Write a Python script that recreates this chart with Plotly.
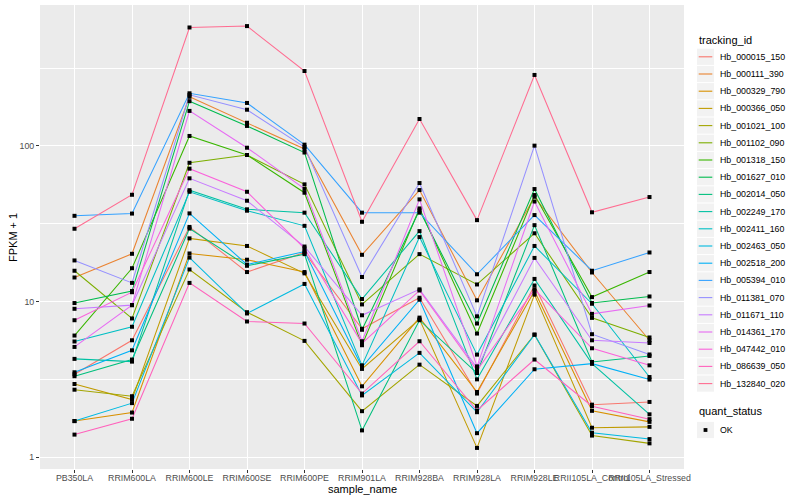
import math
import plotly.graph_objects as go

# ---------------- data ----------------
samples = ["PB350LA", "RRIM600LA", "RRIM600LE", "RRIM600SE", "RRIM600PE", "RRIM901LA",
           "RRIM928BA", "RRIM928LA", "RRIM928LE", "RRII105LA_Control", "RRII105LA_Stressed"]

tracking_ids = ["Hb_000015_150", "Hb_000111_390", "Hb_000329_790", "Hb_000366_050",
                "Hb_001021_100", "Hb_001102_090", "Hb_001318_150", "Hb_001627_010",
                "Hb_002014_050", "Hb_002249_170", "Hb_002411_160", "Hb_002463_050",
                "Hb_002518_200", "Hb_005394_010", "Hb_011381_070", "Hb_011671_110",
                "Hb_014361_170", "Hb_047442_010", "Hb_086639_050", "Hb_132840_020"]

colors = ["#F8766D", "#EA8331", "#D89000", "#C09B00", "#A3A500", "#7CAE00", "#39B600",
          "#00BB4E", "#00BF7D", "#00C1A3", "#00BFC4", "#00BAE0", "#00B0F6", "#35A2FF",
          "#9590FF", "#C77CFF", "#E76BF3", "#FA62DB", "#FF62BC", "#FF6C91"]

# FPKM + 1 per sample (same order as samples)
hb_000015_150 = [3.42, 5.65, 30.2, 15.5, 20.7, 6.7, 10.6, 2.57, 12.7, 2.18, 2.27]
hb_000111_390 = [14.3, 20.3, 207, 141, 95.6, 20.0, 52.1, 10.2, 47.2, 15.4, 5.65]
hb_000329_790 = [1.71, 1.94, 20.4, 18.6, 15.5, 2.86, 7.9, 2.63, 11.7, 1.99, 1.69]
hb_000366_050 = [2.96, 2.35, 25.5, 22.8, 15.2, 3.7, 7.7, 1.15, 11.1, 1.55, 1.57]
hb_001021_100 = [2.72, 2.47, 16.1, 8.56, 5.6, 1.98, 3.94, 2.14, 6.14, 1.38, 1.23]
hb_001102_090 = [15.8, 7.8, 78, 87.5, 56.7, 9.6, 20.2, 12.9, 27.5, 7.87, 5.89]
hb_001318_150 = [6.06, 16.4, 116, 87.5, 50.1, 5.25, 39.7, 6.24, 48.4, 10.7, 15.5]
hb_001627_010 = [9.8, 11.7, 194, 134.5, 90.8, 6.6, 38.6, 7.24, 52.9, 9.8, 10.8]
hb_002014_050 = [3.32, 4.25, 29.5, 17.0, 20.2, 1.49, 7.6, 3.48, 31.0, 4.1, 4.48]
hb_002249_170 = [4.29, 4.12, 52.0, 39.2, 37.3, 10.4, 28.4, 3.17, 14.0, 4.0, 1.89]
hb_002411_160 = [5.55, 6.9, 50.8, 38.4, 30.7, 3.9, 26.0, 4.57, 22.8, 9.7, 3.28]
hb_002463_050 = [1.71, 2.23, 19.2, 8.4, 13.0, 2.5, 4.69, 1.95, 6.14, 1.44, 1.31]
hb_002518_200 = [3.52, 4.87, 36.9, 17.3, 21.0, 3.8, 10.3, 1.43, 3.68, 4.0, 3.16]
hb_005394_010 = [35.6, 36.8, 218, 189, 102, 37.3, 37.3, 15.0, 36.0, 15.8, 20.7]
hb_011381_070 = [18.4, 13.2, 213, 171, 98.5, 14.4, 57.8, 8.05, 100.5, 6.18, 4.58]
hb_011671_110 = [9.0, 9.5, 62, 44.5, 22.6, 8.18, 12.0, 3.76, 19.1, 5.65, 5.43]
hb_014361_170 = [5.12, 9.5, 168, 97.5, 53, 5.57, 45.4, 3.84, 44, 8.35, 9.45]
hb_047442_010 = [7.6, 11.5, 71.5, 50.8, 22.0, 5.4, 11.8, 3.62, 12.0, 5.02, 3.9]
hb_086639_050 = [1.40, 1.77, 13.2, 7.46, 7.24, 2.57, 5.57, 2.0, 4.25, 2.13, 1.76]
hb_132840_020 = [29.4, 48.6, 577, 589, 303, 32.6, 149, 33.4, 286, 37.5, 47]

series = [hb_000015_150, hb_000111_390, hb_000329_790, hb_000366_050, hb_001021_100,
          hb_001102_090, hb_001318_150, hb_001627_010, hb_002014_050, hb_002249_170,
          hb_002411_160, hb_002463_050, hb_002518_200, hb_005394_010, hb_011381_070,
          hb_011671_110, hb_014361_170, hb_047442_010, hb_086639_050, hb_132840_020]

quant_status = ["OK"]

y_ticks = [1, 10, 100]

x_title = "sample_name"
y_title = "FPKM + 1"

# ---------------- layout geometry (pixels) ----------------
W, H = 800, 500
PL, PR, PT, PB = 40, 684, 5, 469
FONT = "Liberation Sans, Arial, Helvetica, sans-serif"


def px_x(p):
    return (p - PL) / (PR - PL)


def px_y(p):
    return (PB - p) / (PB - PT)


fig = go.Figure()

# lines
for name, col, vals in zip(tracking_ids, colors, series):
    fig.add_trace(go.Scatter(x=samples, y=vals, mode="lines", name=name,
                             line=dict(color=col, width=1.05), showlegend=False,
                             hoverinfo="skip"))

# points
all_x, all_y = [], []
for vals in series:
    all_x += samples
    all_y += vals
fig.add_trace(go.Scatter(x=all_x, y=all_y, mode="markers", name="OK",
                         marker=dict(color="black", size=4, symbol="square"),
                         showlegend=False))

# y range like ggplot (5% expansion in log space)
lo = math.log10(min(min(s) for s in series))
hi = math.log10(max(max(s) for s in series))
pad = (hi - lo) * 0.05

fig.update_layout(
    width=W, height=H,
    margin=dict(l=PL, r=W - PR, t=PT, b=H - PB, autoexpand=False),
    paper_bgcolor="white", plot_bgcolor="#EBEBEB",
    font=dict(family=FONT, size=11, color="black"),
    showlegend=False,
)
fig.update_xaxes(
    type="category", categoryorder="array", categoryarray=samples,
    range=[-0.6, len(samples) - 0.4],
    showgrid=True, gridcolor="white", gridwidth=1.1, zeroline=False,
    ticks="outside", ticklen=3, tickwidth=1, tickcolor="#333333",
    tickangle=0, tickfont=dict(size=8.8, color="#4D4D4D", family=FONT),
    ticklabelstandoff=-3,
    showline=False, automargin=False,
)
fig.update_yaxes(
    type="log", range=[lo - pad, hi + pad],
    tickmode="array", tickvals=y_ticks, ticktext=[str(v) for v in y_ticks],
    showgrid=True, gridcolor="white", gridwidth=1.1, zeroline=False,
    ticks="outside", ticklen=3, tickwidth=1, tickcolor="#333333",
    tickfont=dict(size=8.8, color="#4D4D4D", family=FONT),
    minor=dict(tickmode="array", tickvals=[10 ** (math.log10(v) + 0.5) for v in y_ticks],
               showgrid=True, gridcolor="white", gridwidth=0.55, ticks=""),
    showline=False, automargin=False,
)

# ---------------- titles & legends (ggplot style) ----------------
shapes = []
annotations = []

annotations.append(dict(x=0.5, y=px_y(488.5), xref="paper", yref="paper", text=x_title,
                        showarrow=False, xanchor="center", yanchor="middle",
                        font=dict(size=11, color="black", family=FONT)))
annotations.append(dict(x=px_x(13), y=0.5, xref="paper", yref="paper", text=y_title,
                        showarrow=False, xanchor="center", yanchor="middle", textangle=-90,
                        font=dict(size=11, color="black", family=FONT)))

LX = 697
KEY = 17.2
first_y = 56.8

annotations.append(dict(x=px_x(LX), y=px_y(40), xref="paper", yref="paper",
                        text="tracking_id", showarrow=False, xanchor="left",
                        yanchor="middle", font=dict(size=11, color="black", family=FONT)))
for i, (name, col) in enumerate(zip(tracking_ids, colors)):
    cy = first_y + i * KEY
    shapes.append(dict(type="rect", xref="paper", yref="paper",
                       x0=px_x(LX), x1=px_x(LX + 17), y0=px_y(cy - 8.1), y1=px_y(cy + 8.1),
                       fillcolor="#F2F2F2", line=dict(width=0), layer="below"))
    shapes.append(dict(type="line", xref="paper", yref="paper",
                       x0=px_x(LX + 1.7), x1=px_x(LX + 15.3), y0=px_y(cy), y1=px_y(cy),
                       line=dict(color=col, width=1.1)))
    annotations.append(dict(x=px_x(LX + 21), y=px_y(cy), xref="paper", yref="paper",
                            text=name, showarrow=False, xanchor="left", yanchor="middle",
                            font=dict(size=8.8, color="black", family=FONT)))

qy_title = 411
annotations.append(dict(x=px_x(LX), y=px_y(qy_title), xref="paper", yref="paper",
                        text="quant_status", showarrow=False, xanchor="left",
                        yanchor="middle", font=dict(size=11, color="black", family=FONT)))
for j, q in enumerate(quant_status):
    cy = 430 + j * KEY
    shapes.append(dict(type="rect", xref="paper", yref="paper",
                       x0=px_x(LX), x1=px_x(LX + 17), y0=px_y(cy - 8.1), y1=px_y(cy + 8.1),
                       fillcolor="#F2F2F2", line=dict(width=0), layer="below"))
    shapes.append(dict(type="rect", xref="paper", yref="paper",
                       x0=px_x(LX + 6.6), x1=px_x(LX + 10.4), y0=px_y(cy - 1.9), y1=px_y(cy + 1.9),
                       fillcolor="black", line=dict(width=0)))
    annotations.append(dict(x=px_x(LX + 21), y=px_y(cy), xref="paper", yref="paper",
                            text=q, showarrow=False, xanchor="left", yanchor="middle",
                            font=dict(size=8.8, color="black", family=FONT)))

fig.update_layout(shapes=shapes, annotations=annotations)

# page body has a default 8px margin; remove it so the figure sits at (0, 0)
fig.write_html("out.html", config={"displayModeBar": False},
               post_script="document.body.style.margin='0px';document.body.style.padding='0px';")
